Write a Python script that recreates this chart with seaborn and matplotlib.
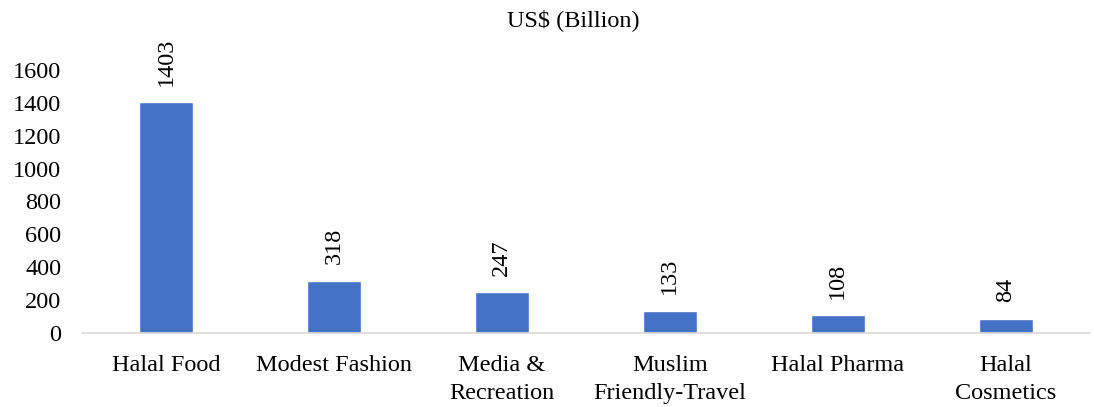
import matplotlib
matplotlib.use("Agg")
import matplotlib.pyplot as plt
import seaborn as sns
import pandas as pd

categories = ["Halal Food", "Modest Fashion", "Media &\nRecreation",
              "Muslim\nFriendly-Travel", "Halal Pharma", "Halal\nCosmetics"]
values = [1403, 318, 247, 133, 108, 84]
y_ticks = [0, 200, 400, 600, 800, 1000, 1200, 1400, 1600]

sns.set_theme(style="white")
plt.rcParams["font.family"] = ["Liberation Serif", "DejaVu Serif"]

df = pd.DataFrame({"sector": categories, "value": values})

fig = plt.figure(figsize=(10.94, 4.07), dpi=100)
ax = fig.add_axes([0.075, 0.182, 0.921, 0.646])

sns.barplot(data=df, x="sector", y="value", color="#4472C4", width=0.32,
            saturation=1, ax=ax)

ax.set_ylim(0, 1600)
ax.set_yticks(y_ticks)
ax.set_xlim(-0.5, len(categories) - 0.5)
ax.set_xticks(range(len(categories)), categories, linespacing=1.42)
ax.set_xlabel("")
ax.set_ylabel("")
ax.tick_params(axis="both", labelsize=17.5, length=0, colors="#000000")
ax.tick_params(axis="x", pad=16)
ax.tick_params(axis="y", pad=15)

for side in ["top", "right", "left"]:
    ax.spines[side].set_visible(False)
ax.spines["bottom"].set_color("#D9D9D9")
ax.spines["bottom"].set_linewidth(1.2)

for i, v in enumerate(values):
    ax.annotate(str(v), xy=(i, v), xytext=(0, 12), textcoords="offset points",
                rotation=90, ha="center", va="bottom", fontsize=17.5,
                annotation_clip=False, color="#000000")

fig.text(573 / 1094, 1 - 20 / 407, "US$ (Billion)", ha="center", va="center",
         fontsize=17.5, color="#000000")

fig.savefig("out.png", dpi=100)
